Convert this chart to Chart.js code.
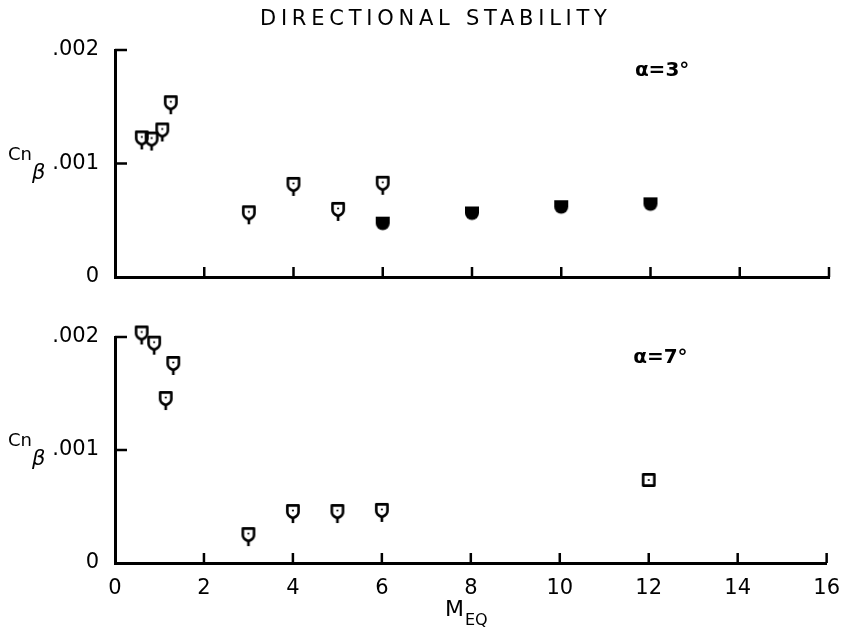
<!DOCTYPE html>
<html>
<head>
<meta charset="utf-8">
<title>Directional stability</title>
<script src="https://cdn.jsdelivr.net/npm/chart.js@4.4.1/dist/chart.umd.min.js"></script>
<style>
  html, body { margin: 0; padding: 0; background: #fff; }
  #wrap { position: relative; width: 845px; height: 633px; }
  canvas { position: absolute; left: 0; }
  #top { top: 0; }
  #bottom { top: 300px; }
</style>
</head>
<body>
<div id="wrap">
  <canvas id="top" width="845" height="300"></canvas>
  <canvas id="bottom" width="845" height="333"></canvas>
</div>
<script>
// Cn_beta against equivalent Mach number, two angles of attack
const machTicks = [0, 2, 4, 6, 8, 10, 12, 14, 16];
const machTickLabels = ['0', '2', '4', '6', '8', '10', '12', '14', '16'];
const cnbTicks = [0, 0.001, 0.002];
const cnbTickLabels = ['0', '.001', '.002'];

// alpha = 3 deg
const mach3Flag = [0.6, 0.82, 1.06, 1.25, 3, 4, 5, 6];
const cnb3Flag = [0.00123, 0.00122, 0.0013, 0.00154, 0.00057, 0.00082, 0.0006, 0.00083];
const mach3Solid = [6, 8, 10, 12];
const cnb3Solid = [0.00047, 0.00056, 0.000615, 0.00064];

// alpha = 7 deg
const mach7Flag = [0.6, 0.88, 1.14, 1.31, 3, 4, 5, 6];
const cnb7Flag = [0.00204, 0.00195, 0.00146, 0.00177, 0.000256, 0.00046, 0.00046, 0.00047];
const mach7Square = [12];
const cnb7Square = [0.000735];

const FONT = '"DejaVu Sans", "Liberation Sans", sans-serif';

function markerCanvas(w, h, draw) {
  const c = document.createElement('canvas');
  c.width = w;
  c.height = h;
  const ctx = c.getContext('2d');
  ctx.translate(w / 2, h / 2);
  ctx.strokeStyle = '#000';
  ctx.fillStyle = '#000';
  ctx.lineWidth = 2.6;
  ctx.lineJoin = 'round';
  draw(ctx);
  return c;
}

// open flag symbol: square head, pointed bottom, short tail, centre dot
const flagMarker = markerCanvas(18, 30, ctx => {
  ctx.beginPath();
  ctx.moveTo(-5.6, -5.6);
  ctx.lineTo(5.6, -5.6);
  ctx.lineTo(5.6, 1);
  ctx.quadraticCurveTo(5.6, 5, 0, 7);
  ctx.quadraticCurveTo(-5.6, 5, -5.6, 1);
  ctx.closePath();
  ctx.stroke();
  ctx.beginPath();
  ctx.moveTo(0, 7);
  ctx.lineTo(0, 12);
  ctx.stroke();
  ctx.beginPath();
  ctx.arc(0, -0.5, 1.1, 0, Math.PI * 2);
  ctx.fill();
});

// solid shield
const solidMarker = markerCanvas(18, 18, ctx => {
  ctx.beginPath();
  ctx.moveTo(-7, -7);
  ctx.lineTo(7, -7);
  ctx.lineTo(7, -0.5);
  ctx.arc(0, -0.5, 7, 0, Math.PI);
  ctx.closePath();
  ctx.fill();
});

// open square with dot
const squareMarker = markerCanvas(18, 18, ctx => {
  ctx.strokeRect(-5.6, -5.6, 11.2, 11.2);
  ctx.beginPath();
  ctx.arc(0, 0, 1.1, 0, Math.PI * 2);
  ctx.fill();
});

function series(xs, ys, style) {
  return {
    data: xs.map((x, i) => ({ x: x, y: ys[i] })),
    pointStyle: style,
    pointRadius: 7,
    clip: false
  };
}

// tick marks drawn on the inside of the axes
const inwardTicks = {
  id: 'inwardTicks',
  beforeDatasetsDraw(chart) {
    const { ctx, chartArea, scales: { x, y } } = chart;
    ctx.save();
    ctx.strokeStyle = '#000';
    ctx.lineWidth = 2.5;
    ctx.beginPath();
    x.ticks.forEach(t => {
      if (t.value === 0) return;
      const px = x.getPixelForValue(t.value);
      ctx.moveTo(px, chartArea.bottom);
      ctx.lineTo(px, chartArea.bottom - 10);
    });
    y.ticks.forEach(t => {
      if (t.value === 0) return;
      const py = y.getPixelForValue(t.value);
      ctx.moveTo(chartArea.left, py);
      ctx.lineTo(chartArea.left + 12, py);
    });
    ctx.stroke();
    ctx.restore();
  }
};

const panelText = {
  id: 'panelText',
  afterDraw(chart, args, opts) {
    const { ctx, chartArea, scales: { x, y } } = chart;
    ctx.save();
    ctx.fillStyle = '#000';
    ctx.textAlign = 'left';
    ctx.textBaseline = 'alphabetic';

    // Cn_beta beside the .001 tick
    const py = y.getPixelForValue(0.001);
    ctx.font = '18px ' + FONT;
    ctx.fillText('Cn', 8, py - 4);
    ctx.font = 'italic 21px ' + FONT;
    ctx.fillText('β', 32, py + 15);

    // angle of attack
    ctx.font = 'bold 20px ' + FONT;
    ctx.textBaseline = 'middle';
    ctx.fillText(opts.alpha, x.getPixelForValue(opts.alphaAt[0]), y.getPixelForValue(opts.alphaAt[1]));

    if (opts.title) {
      const text = 'DIRECTIONAL STABILITY';
      ctx.font = '21px ' + FONT;
      ctx.textBaseline = 'alphabetic';
      const w0 = ctx.measureText(text).width;
      ctx.letterSpacing = ((347 - w0) / (text.length - 1)).toFixed(2) + 'px';
      ctx.fillText(text, 260, 25);
      ctx.letterSpacing = '0px';
    }

    if (opts.xTitle) {
      ctx.textBaseline = 'alphabetic';
      ctx.font = '22px ' + FONT;
      ctx.fillText('M', 445, chartArea.bottom + 53);
      const mw = ctx.measureText('M').width;
      ctx.font = '16px ' + FONT;
      ctx.fillText('EQ', 445 + mw + 1, chartArea.bottom + 62);
    }
    ctx.restore();
  }
};

function panelOptions(padTop, xHeight, showXLabels, text) {
  return {
    responsive: false,
    animation: false,
    events: [],
    layout: { padding: { top: padTop, right: 16, left: 0, bottom: 0 } },
    plugins: {
      legend: { display: false },
      tooltip: { enabled: false },
      panelText: text
    },
    scales: {
      x: {
        type: 'linear',
        min: 0,
        max: 16,
        afterBuildTicks: s => { s.ticks = machTicks.map(v => ({ value: v })); },
        afterFit: s => { s.height = xHeight; },
        grid: { display: false },
        border: { display: true, color: '#000', width: 3 },
        ticks: {
          display: showXLabels,
          autoSkip: false,
          maxRotation: 0,
          padding: 5,
          color: '#000',
          font: { family: FONT, size: 21 },
          callback: (v, i) => machTickLabels[i]
        }
      },
      y: {
        type: 'linear',
        min: 0,
        max: 0.002,
        afterBuildTicks: s => { s.ticks = cnbTicks.map(v => ({ value: v })); },
        afterFit: s => { s.width = 115; },
        grid: { display: false },
        border: { display: true, color: '#000', width: 3 },
        ticks: {
          padding: 8,
          color: '#000',
          font: { family: FONT, size: 21 },
          callback: (v, i) => cnbTickLabels[i]
        }
      }
    }
  };
}

new Chart(document.getElementById('top'), {
  type: 'scatter',
  data: {
    datasets: [
      series(mach3Flag, cnb3Flag, flagMarker),
      series(mach3Solid, cnb3Solid, solidMarker)
    ]
  },
  options: panelOptions(50, 23, false, { alpha: 'α=3°', alphaAt: [11.65, 0.00182], title: true }),
  plugins: [inwardTicks, panelText]
});

new Chart(document.getElementById('bottom'), {
  type: 'scatter',
  data: {
    datasets: [
      series(mach7Flag, cnb7Flag, flagMarker),
      series(mach7Square, cnb7Square, squareMarker)
    ]
  },
  options: panelOptions(37, 70, true, { alpha: 'α=7°', alphaAt: [11.65, 0.00182], xTitle: true }),
  plugins: [inwardTicks, panelText]
});
</script>
</body>
</html>
